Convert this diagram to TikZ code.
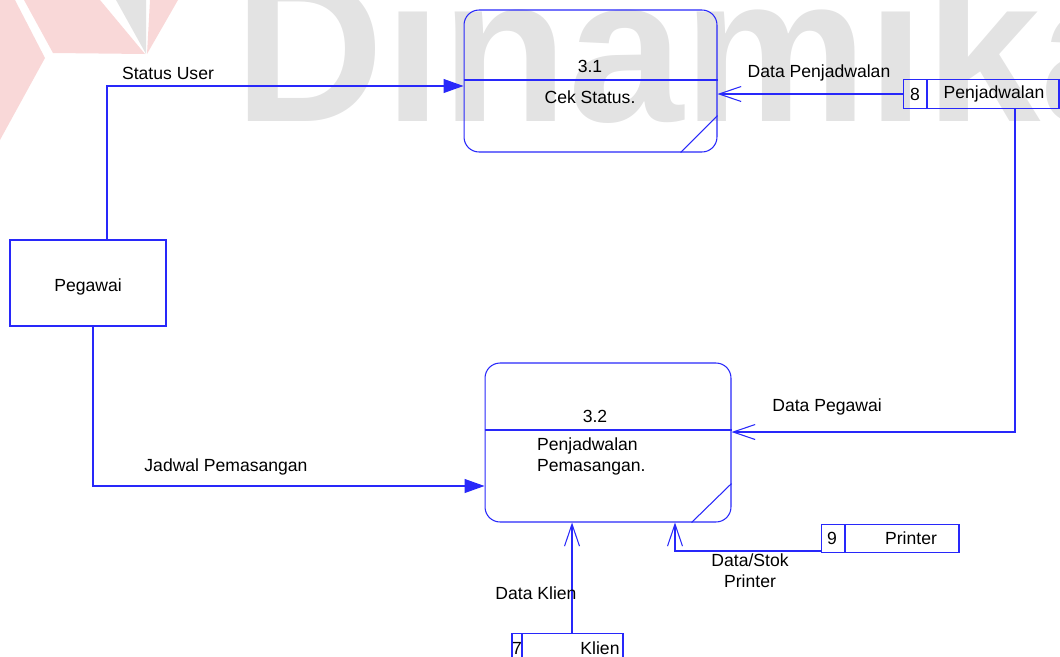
\documentclass[tikz,border=0pt]{standalone}
\usepackage{fontspec}
\setmainfont{Liberation Sans}
\usetikzlibrary{arrows.meta}
\usetikzlibrary{calc}
\definecolor{garis}{RGB}{40,40,250}
\definecolor{merahmuda}{RGB}{249,216,216}
\definecolor{abumuda}{RGB}{227,227,227}

\begin{document}
\begin{tikzpicture}[x=0.02cm, y=-0.02cm,
proses/.style={draw=garis, line width=.6pt, rounded corners=.3cm, inner sep=0},
entitas/.style={draw=garis, line width=.6pt, inner sep=0, minimum width=3.12cm, minimum height=1.72cm},
simpan/.style={draw=garis, line width=.6pt, inner sep=0, minimum height=.57cm},
teks/.style={inner sep=1, font=\fontsize{10}{12}\selectfont},
alir/.style={garis, line width=.6pt},
penuh/.style={-{Triangle[length=.4cm, width=.28cm]}},
buka/.style={-{Straight Barb[length=.44cm, width=.3cm, line width=.6pt]}}]
\clip (0,0) rectangle (1060,656);
% watermark
\fill[merahmuda] (0,0)--(15,0)--(45,58)--(0,140)--cycle;
\fill[merahmuda] (24,0)--(100,0)--(145,54)--(53,53)--cycle;
\fill[abumuda] (116,0)--(146,0)--(146,54)--cycle;
\fill[merahmuda] (150,0)--(178,0)--(147,54)--cycle;
\node[anchor=base west, inner sep=0, text=abumuda, font=\fontsize{118}{118}\bfseries\selectfont] (wm) at (234,121) {Dinamika};
% proses dan entitas
\node[proses, minimum width=5.06cm, minimum height=2.84cm] (p31) at (590.5,81) {};
\node[proses, minimum width=4.92cm, minimum height=3.18cm] (p32) at (608,442.5) {};
\node[entitas] (peg) at (88,283) {};
\node[simpan, minimum width=3.12cm] (s8) at (981,94) {};
\node[simpan, minimum width=2.76cm] (s9) at (890,538.5) {};
\node[simpan, minimum width=2.22cm] (s7) at (567.5,647.5) {};
\draw[alir] (p31.west |- 0,80) -- (p31.east |- 0,80);
\draw[alir] ([xshift=-.74cm]p31.south east) -- ([yshift=.74cm]p31.south east);
\draw[alir] (p32.west |- 0,430) -- (p32.east |- 0,430);
\draw[alir] ([xshift=-.8cm]p32.south east) -- ([yshift=.78cm]p32.south east);
\draw[alir] (927,80) -- (927,108);
\draw[alir] (845,524) -- (845,553);
\draw[alir] (522,633) -- (522,662);
% teks
\node[teks] (t31) at (590,66) {3.1};
\node[teks] (n31) at (590,97) {Cek Status.};
\node[teks] (t32) at (595,416) {3.2};
\node[teks, anchor=west, align=left] (n32) at (535,456) {Penjadwalan\\Pemasangan.};
\node[teks] (npeg) at (88,287) {Pegawai};
\node[teks] (k8) at (915,94) {8};
\node[teks] (n8) at (994,94) {Penjadwalan};
\node[teks] (k9) at (832,538) {9};
\node[teks] (n9) at (911,538) {Printer};
\node[teks] (k7) at (517,648) {7};
\node[teks] (n7) at (600,648) {Klien};
% aliran data
\draw[alir, penuh] ([xshift=.38cm]peg.north) |- ([yshift=-.1cm]p31.west);
\draw[alir, buka] (s8.west) -- (p31.east |- s8.west);
\draw[alir, buka] ([xshift=.68cm]s8.south) |- ([yshift=.21cm]p32.east);
\draw[alir, penuh] ([xshift=.1cm]peg.south) |- ([yshift=-.87cm]p32.west);
\draw[alir, buka] ([xshift=.09cm]s7.north) -- ([xshift=.09cm]s7.north |- p32.south);
\draw[alir, buka] ([yshift=-.25cm]s9.west) -| ([xshift=1.34cm]p32.south);
\node[teks] (l1) at (168,73) {Status User};
\node[teks] (l2) at (819,73) {Data Penjadwalan};
\node[teks] (l3) at (827,407) {Data Pegawai};
\node[teks] (l4) at (226,467) {Jadwal Pemasangan};
\node[teks] (l5) at (536,593) {Data Klien};
\node[teks, align=center] (l6) at (750,571) {Data/Stok\\Printer};
\end{tikzpicture}
\end{document}
